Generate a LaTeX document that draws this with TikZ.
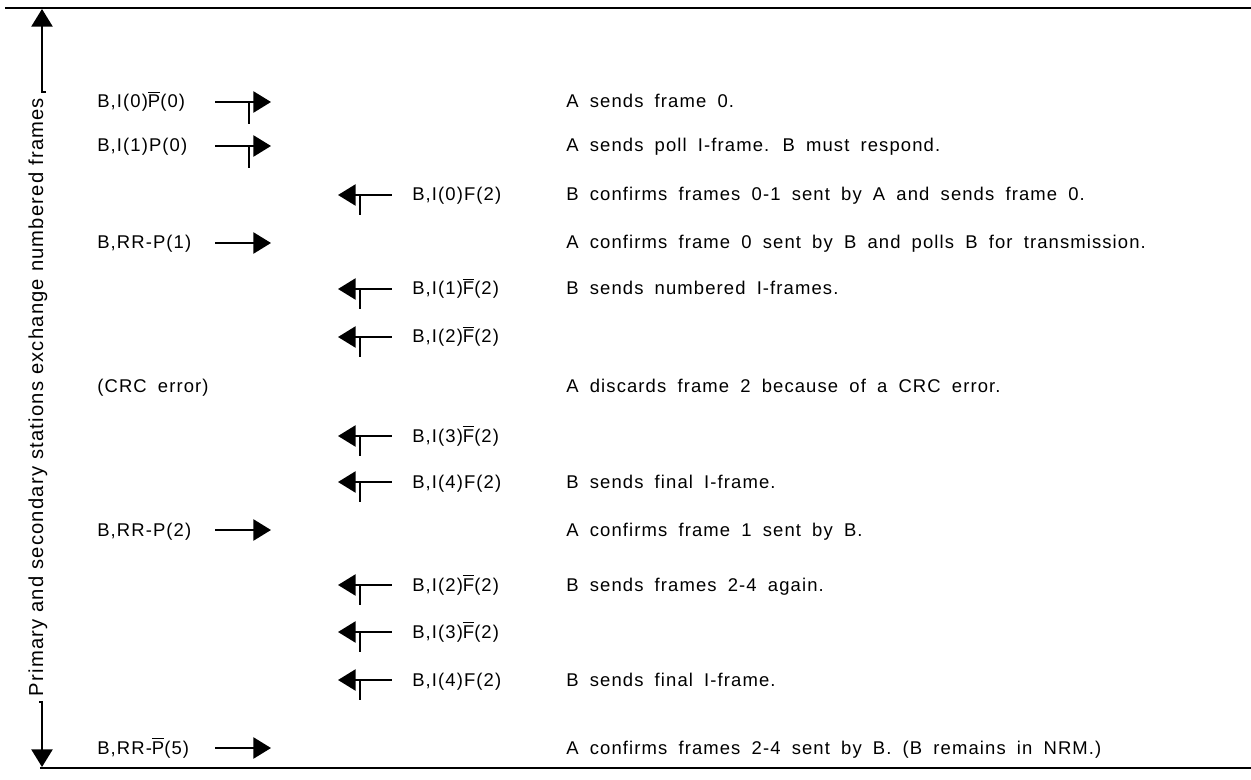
\documentclass[tikz,border=0pt]{standalone}
\usepackage{fontspec}
\setmainfont[LetterSpace=6, WordSpace=1.8]{Liberation Sans}
\newfontfamily\sidefont[LetterSpace=6, WordSpace=1.0]{Liberation Sans}
\usetikzlibrary{arrows.meta}
\newcommand{\ovl}[1]{$\overline{\mbox{#1}}$}

\begin{document}
\begin{tikzpicture}[x=0.02cm, y=-0.02cm, font=\fontsize{10.5}{12}\selectfont,
  lbl/.style={anchor=base west, inner sep=0pt},
  fwd/.style={-{Triangle[length=10pt,width=12pt]}, line width=1.1pt},
  bwd/.style={{Triangle[length=10pt,width=12pt]}-, line width=1.1pt},
  tick/.style={line width=1.1pt},
  rule/.style={line width=1.7pt}]

\useasboundingbox (0,0) rectangle (1251,780);

% linee orizzontali
\draw[rule] (5,8) -- (1251,8);
\draw[rule] (40,768) -- (1251,768);

% freccia laterale
\node[rotate=90, inner sep=0pt, font=\sidefont\fontsize{11.5}{13}\selectfont] (side) at (38,397)
  {Primary and secondary stations exchange numbered frames};
\draw[fwd] (46,92) -- (42,92) -- (42,9);
\draw[fwd] (39,702) -- (42,702) -- (42,767);

% riga 1
\node[lbl] (l1) at (97,108) {B,I(0)\ovl{P}(0)};
\draw[fwd] (215,102) -- (271,102);
\draw[tick] (249,102) -- (249,124);
\node[lbl] (d1) at (566,108) {A sends frame 0.};

% riga 2
\node[lbl] (l2) at (97,152) {B,I(1)P(0)};
\draw[fwd] (215,146) -- (271,146);
\draw[tick] (249,146) -- (249,168);
\node[lbl] (d2) at (566,152) {A sends poll I-frame. B must respond.};

% riga 3
\draw[bwd] (338,195) -- (392,195);
\draw[tick] (360,195) -- (360,215);
\node[lbl] (m3) at (412,201) {B,I(0)F(2)};
\node[lbl] (d3) at (566,201) {B confirms frames 0-1 sent by A and sends frame 0.};

% riga 4
\node[lbl] (l4) at (97,249) {B,RR-P(1)};
\draw[fwd] (215,243) -- (271,243);
\node[lbl] (d4) at (566,249) {A confirms frame 0 sent by B and polls B for transmission.};

% riga 5
\draw[bwd] (338,289) -- (392,289);
\draw[tick] (360,289) -- (360,309);
\node[lbl] (m5) at (412,295) {B,I(1)\ovl{F}(2)};
\node[lbl] (d5) at (566,295) {B sends numbered I-frames.};

% riga 6
\draw[bwd] (338,337) -- (392,337);
\draw[tick] (360,337) -- (360,357);
\node[lbl] (m6) at (412,343) {B,I(2)\ovl{F}(2)};

% riga 7
\node[lbl] (l7) at (97,393) {(CRC error)};
\node[lbl] (d7) at (566,393) {A discards frame 2 because of a CRC error.};

% riga 8
\draw[bwd] (338,436) -- (392,436);
\draw[tick] (360,436) -- (360,456);
\node[lbl] (m8) at (412,442) {B,I(3)\ovl{F}(2)};

% riga 9
\draw[bwd] (338,482) -- (392,482);
\draw[tick] (360,482) -- (360,502);
\node[lbl] (m9) at (412,488) {B,I(4)F(2)};
\node[lbl] (d9) at (566,488) {B sends final I-frame.};

% riga 10
\node[lbl] (l10) at (97,536) {B,RR-P(2)};
\draw[fwd] (215,530) -- (271,530);
\node[lbl] (d10) at (566,536) {A confirms frame 1 sent by B.};

% riga 11
\draw[bwd] (338,585) -- (392,585);
\draw[tick] (360,585) -- (360,605);
\node[lbl] (m11) at (412,591) {B,I(2)\ovl{F}(2)};
\node[lbl] (d11) at (566,591) {B sends frames 2-4 again.};

% riga 12
\draw[bwd] (338,632) -- (392,632);
\draw[tick] (360,632) -- (360,652);
\node[lbl] (m12) at (412,638) {B,I(3)\ovl{F}(2)};

% riga 13
\draw[bwd] (338,680) -- (392,680);
\draw[tick] (360,680) -- (360,700);
\node[lbl] (m13) at (412,686) {B,I(4)F(2)};
\node[lbl] (d13) at (566,686) {B sends final I-frame.};

% riga 14
\node[lbl] (l14) at (97,754) {B,RR-\ovl{P}(5)};
\draw[fwd] (215,748) -- (271,748);
\node[lbl] (d14) at (566,754) {A confirms frames 2-4 sent by B. (B remains in NRM.)};

\end{tikzpicture}
\end{document}
